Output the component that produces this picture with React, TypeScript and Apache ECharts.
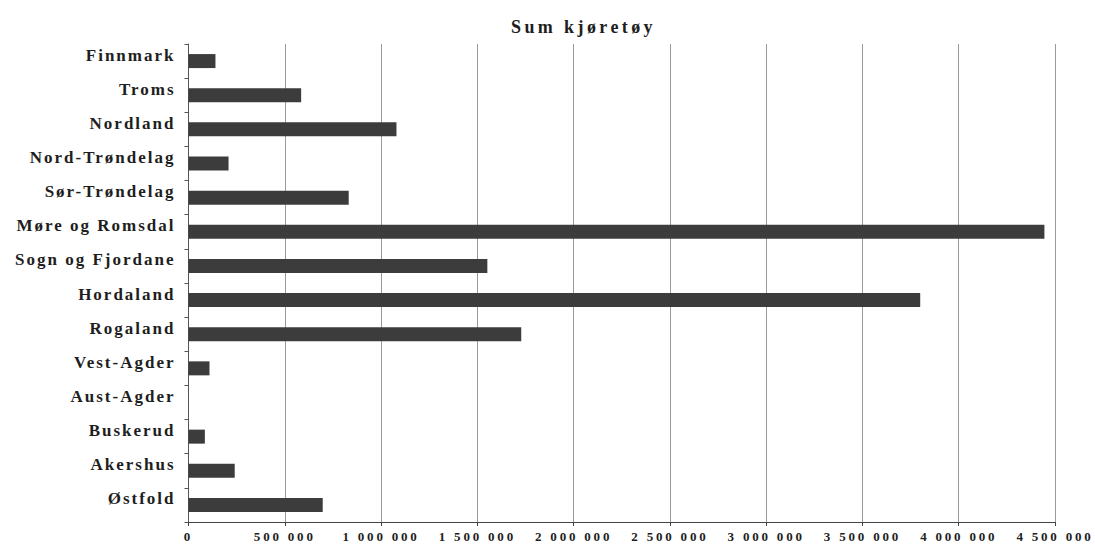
import React, { useEffect, useRef } from "react";
import * as echarts from "echarts";

const categories = [
  "Finnmark",
  "Troms",
  "Nordland",
  "Nord-Trøndelag",
  "Sør-Trøndelag",
  "Møre og Romsdal",
  "Sogn og Fjordane",
  "Hordaland",
  "Rogaland",
  "Vest-Agder",
  "Aust-Agder",
  "Buskerud",
  "Akershus",
  "Østfold",
];

const sumKjoretoy = [
  140000, 585000, 1080000, 208000, 832000, 4445000, 1552000, 3800000, 1728000,
  109000, 0, 85000, 240000, 697000,
];

const titleText = "Sum kjøretøy";
const xMin = 0;
const xMax = 4500000;
const xStep = 500000;

const fmt = (v: number) =>
  String(Math.round(v)).replace(/\B(?=(\d{3})+(?!\d))/g, " ");

const FONT = "Liberation Serif";

export default function App() {
  const ref = useRef<HTMLDivElement>(null);

  useEffect(() => {
    if (!ref.current) return;
    const chart = echarts.init(ref.current, undefined, { renderer: "svg" });
    chart.setOption({
      animation: false,
      backgroundColor: "#ffffff",
      title: {
        text: titleText,
        left: 511,
        top: 18,
        padding: 0,
        textStyle: {
          fontFamily: FONT,
          fontWeight: "bold",
          fontSize: 18,
          color: "#1e1e1e",
        },
      },
      grid: { left: 188.5, right: 40, top: 44, bottom: 25 },
      xAxis: {
        type: "value",
        min: xMin,
        max: xMax,
        interval: xStep,
        axisLine: { show: true, lineStyle: { color: "#444444", width: 1 } },
        axisTick: { show: true, length: 4, lineStyle: { color: "#444444" } },
        splitLine: { show: true, lineStyle: { color: "#9a9a9a", width: 1 } },
        axisLabel: {
          formatter: (v: number) => fmt(v),
          fontFamily: FONT,
          fontWeight: "bold",
          fontSize: 13,
          color: "#1e1e1e",
          margin: 8,
        },
      },
      yAxis: {
        type: "category",
        inverse: true,
        data: categories,
        axisLine: { show: true, lineStyle: { color: "#555555", width: 1 } },
        axisTick: { show: true, length: 4, lineStyle: { color: "#555555" } },
        splitLine: { show: false },
        axisLabel: {
          fontFamily: FONT,
          fontWeight: "bold",
          fontSize: 17,
          color: "#1e1e1e",
          margin: 13,
          verticalAlign: "bottom",
          lineHeight: 12,
        },
      },
      series: [
        {
          type: "bar",
          data: sumKjoretoy,
          barWidth: "41%",
          itemStyle: { color: "#3c3c3c" },
        },
      ],
    });
    return () => chart.dispose();
  }, []);

  return (
    <>
      <style>{`
        .chartbox text[style*="18px"] { letter-spacing: 3.4px; }
        .chartbox text[style*="17px"] { letter-spacing: 2px; }
        .chartbox text[style*="13px"] { letter-spacing: 2.8px; }
      `}</style>
      <div
        ref={ref}
        className="chartbox"
        style={{
          position: "fixed",
          left: 0,
          top: 0,
          width: 1095,
          height: 547,
          background: "#ffffff",
        }}
      />
    </>
  );
}
